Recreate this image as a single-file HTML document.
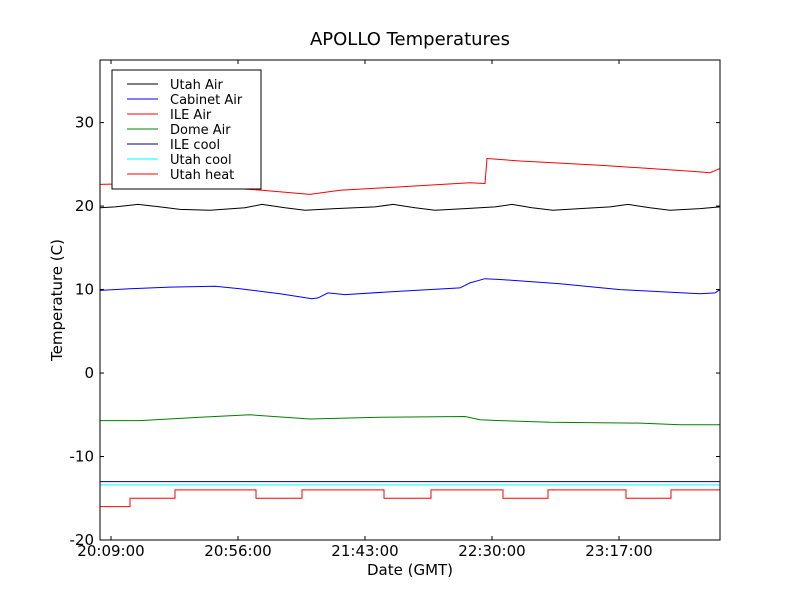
<!DOCTYPE html>
<html><head><meta charset="utf-8"><style>
body{margin:0;background:#fff;}
svg text{font-family:"DejaVu Sans","Liberation Sans",sans-serif;}
</style></head><body>
<svg id="c" width="800" height="600" xmlns="http://www.w3.org/2000/svg">
<rect width="800" height="600" fill="#fff"/>
<defs><clipPath id="pa"><rect x="100" y="60" width="620" height="480"/></clipPath></defs>
</svg>
<script>
const tickLabels=["20:09:00","20:56:00","21:43:00","22:30:00","23:17:00"];
const tickMinutes=[0,47,94,141,188];
const yTicks=[-20,-10,0,10,20,30];
const toMin=x=>x*47/127-4.07;
const utahAirT=[0,15,38,60,80,110,145,162,185,205,235,275,293,315,335,365,395,412,432,453,480,510,528,550,570,600,620].map(toMin);
const utahAirV=[19.8,19.9,20.2,19.9,19.6,19.5,19.8,20.2,19.8,19.5,19.7,19.9,20.2,19.8,19.5,19.7,19.9,20.2,19.8,19.5,19.7,19.9,20.2,19.8,19.5,19.7,19.9];
const cabT=[0,30,70,115,140,180,212,218,228,245,300,360,370,385,400,460,520,600,615,620].map(toMin);
const cabV=[9.9,10.1,10.3,10.4,10.1,9.5,8.9,9.0,9.6,9.4,9.8,10.2,10.8,11.3,11.2,10.7,10.0,9.5,9.6,10.0];
const ileAirT=[0,40,100,162,210,240,300,370,385,387,420,500,600,610,620].map(toMin);
const ileAirV=[22.6,22.7,22.4,21.9,21.4,21.9,22.3,22.8,22.7,25.7,25.4,24.9,24.1,24.0,24.5];
const domeT=[0,40,100,150,210,280,365,380,400,450,540,580,620].map(toMin);
const domeV=[-5.7,-5.7,-5.3,-5.0,-5.5,-5.3,-5.2,-5.6,-5.7,-5.9,-6.0,-6.2,-6.2];
const ileCoolT=[0,620].map(toMin); const ileCoolV=[-13.0,-13.0];
const utahCoolT=[0,620].map(toMin); const utahCoolV=[-13.4,-13.4];
const heatT=[0,30,30,75,75,156,156,202,202,284,284,331,331,403,403,448,448,526,526,571,571,620].map(toMin);
const heatV=[-16,-16,-15,-15,-14,-14,-15,-15,-14,-14,-15,-15,-14,-14,-15,-15,-14,-14,-15,-15,-14,-14];
const series=[
 ["Utah Air","#000",utahAirT,utahAirV],
 ["Cabinet Air","#00f",cabT,cabV],
 ["ILE Air","#f00",ileAirT,ileAirV],
 ["Dome Air","#008000",domeT,domeV],
 ["ILE cool","#000080",ileCoolT,ileCoolV],
 ["Utah cool","#0ff",utahCoolT,utahCoolV],
 ["Utah heat","#f00",heatT,heatV]];
const L=100,R=720,T=60,B=540,xmin=-4.07,xmax=toMin(620),ymin=-20,ymax=37.5;
const X=m=>L+(m-xmin)/(xmax-xmin)*(R-L), Y=v=>B-(v-ymin)/(ymax-ymin)*(B-T);
const s=document.getElementById('c'),NS="http://www.w3.org/2000/svg";
function el(t,a,p){const e=document.createElementNS(NS,t);for(const k in a)e.setAttribute(k,a[k]);(p||s).appendChild(e);return e;}
series.forEach((sr,i)=>{
 const [n,c,t,v]=sr; const len=Math.min(t.length,v.length);
 let d="";for(let j=0;j<len;j++)d+=(j?"L":"M")+X(t[j]).toFixed(1)+","+Y(v[j]).toFixed(1);
 const p=el('path',{d:d,fill:'none',stroke:c,'stroke-width':1,'clip-path':'url(#pa)'});
 
 
});
el('rect',{x:L,y:T,width:R-L,height:B-T,fill:'none',stroke:'#000','stroke-width':1});
tickMinutes.forEach((m,i)=>{
 const x=X(m);
 el('line',{x1:x,x2:x,y1:B,y2:B-4,stroke:'#000'});el('line',{x1:x,x2:x,y1:T,y2:T+4,stroke:'#000'});
 const t=el('text',{x:x,y:B+16,'font-size':15,'text-anchor':'middle'});t.textContent=tickLabels[i];
 
 
});
yTicks.forEach(v=>{
 const y=Y(v);
 el('line',{x1:L,x2:L+4,y1:y,y2:y,stroke:'#000'});el('line',{x1:R,x2:R-4,y1:y,y2:y,stroke:'#000'});
 const t=el('text',{x:L-6,y:y+5,'font-size':15,'text-anchor':'end'});t.textContent=v;
 
 
});
const ttl=el('text',{x:410,y:45,'font-size':18,'text-anchor':'middle'});ttl.textContent="APOLLO Temperatures";


const xl=el('text',{x:410,y:575,'font-size':15,'text-anchor':'middle'});xl.textContent="Date (GMT)";


const yl=el('text',{x:62,y:300,'font-size':15,'text-anchor':'middle',transform:'rotate(-90 62 300)'});yl.textContent="Temperature (C)";


const lg=el('g',{});


el('rect',{x:112,y:70,width:149,height:119,fill:'#fff',stroke:'#000'},lg);
series.forEach((sr,i)=>{
 const y=84+i*15;
 el('line',{x1:127,x2:158,y1:y,y2:y,stroke:sr[1]},lg);
 const t=el('text',{x:170,y:y+5,'font-size':13},lg);t.textContent=sr[0];
 
 
});
</script>
</body></html>
